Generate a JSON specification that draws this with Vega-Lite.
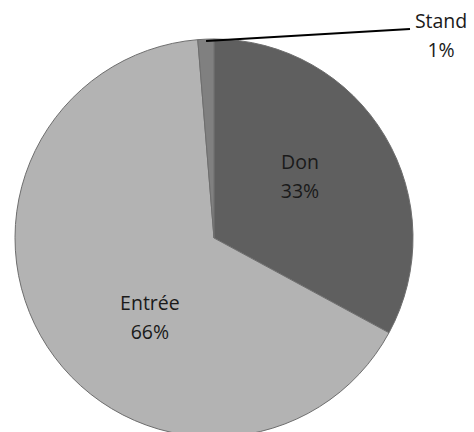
{
  "$schema": "https://vega.github.io/schema/vega-lite/v6.json",
  "width": 474,
  "height": 432,
  "autosize": {"type": "none"},
  "padding": 0,
  "background": "white",
  "config": {"view": {"stroke": null}},
  "datasets": {
    "slices": [
      {"category": "Don", "value": 32.9, "ord": 1},
      {"category": "Entrée", "value": 65.8, "ord": 2},
      {"category": "Stand", "value": 1.3, "ord": 3}
    ],
    "labels": [
      {"category": "Don", "label": ["Don", "33%"], "px": 0.432, "py": 0.377},
      {"category": "Entrée", "label": ["Entrée", "66%"], "px": -0.322, "py": -0.332},
      {"category": "Stand", "label": ["Stand", "1%"], "px": 1.141, "py": 1.083}
    ],
    "leader": [
      {"x1": -0.04, "y1": 0.99, "x2": 0.985, "y2": 1.05}
    ]
  },
  "encoding": {},
  "layer": [
    {
      "data": {"name": "slices"},
      "mark": {"type": "arc", "outerRadius": 199, "stroke": "#6e6e6e", "strokeWidth": 1},
      "encoding": {
        "x": {"datum": 0, "type": "quantitative", "scale": {"domain": [-1.0754, 1.3065], "nice": false, "zero": false}, "axis": null},
        "y": {"datum": 0, "type": "quantitative", "scale": {"domain": [-0.9749, 1.196], "nice": false, "zero": false}, "axis": null},
        "theta": {"field": "value", "type": "quantitative", "stack": true},
        "order": {"field": "ord", "type": "quantitative"},
        "color": {"field": "category", "type": "nominal", "scale": {"domain": ["Don", "Entrée", "Stand"], "range": ["#5f5f5f", "#b3b3b3", "#808080"]}, "legend": null}
      }
    },
    {
      "data": {"name": "leader"},
      "mark": {"type": "rule", "color": "#000000", "strokeWidth": 2},
      "encoding": {
        "x": {"field": "x1", "type": "quantitative"},
        "y": {"field": "y1", "type": "quantitative"},
        "x2": {"field": "x2"},
        "y2": {"field": "y2"}
      }
    },
    {
      "data": {"name": "labels"},
      "mark": {"type": "text", "font": "Open Sans", "fontSize": 19.5, "lineHeight": 29, "align": "center", "baseline": "middle", "color": "#1a1a1a"},
      "encoding": {
        "x": {"field": "px", "type": "quantitative"},
        "y": {"field": "py", "type": "quantitative"},
        "text": {"field": "label"}
      }
    }
  ]
}
